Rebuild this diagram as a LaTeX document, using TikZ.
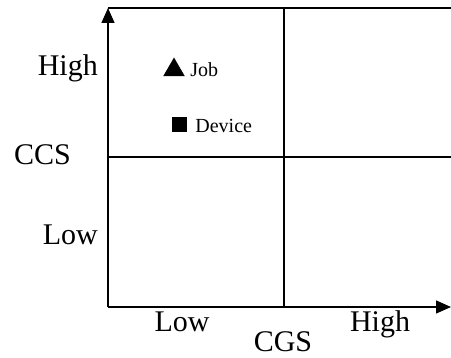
\documentclass[tikz,border=0pt]{standalone}
\usepackage{fontspec}
\setmainfont{Liberation Serif}
\usetikzlibrary{positioning,arrows.meta,shapes.geometric}
\tikzset{
        axis/.style={line width=1.3pt, -{Triangle[length=15pt,width=13pt]}},
        gridline/.style={line width=1.3pt},
        axislabel/.style={font=\fontsize{30}{30}\selectfont, inner sep=0pt},
        legendtext/.style={font=\fontsize{20}{20}\selectfont, inner sep=0pt},
        jobmark/.style={regular polygon, regular polygon sides=3, fill=black, inner sep=0pt, minimum size=25pt},
        devmark/.style={rectangle, fill=black, inner sep=0pt, minimum size=15pt},
    }
\begin{document}
\begin{tikzpicture}[x=1pt, y=1pt]
        \useasboundingbox (0,0) rectangle (451,358);

        % Punti degli assi
        \coordinate (origin) at (108,51);
        \coordinate (ytop) at (108,350);
        \coordinate (xend) at (451,51);
        \coordinate (topright) at (451,350);
        \coordinate (midbottom) at (284,51);
        \coordinate (midtop) at (284,350);
        \coordinate (midleft) at (108,201);
        \coordinate (midright) at (451,201);

        % Assi
        \draw[axis] (origin) -- (ytop);
        \draw[axis] (origin) -- (xend);

        % Griglia dei quadranti
        \draw[gridline] (ytop) -- (topright);
        \draw[gridline] (midbottom) -- (midtop);
        \draw[gridline] (midleft) -- (midright);

        % Etichette asse verticale
        \node[axislabel, anchor=base east] (yhigh) at (98,282) {High};
        \node[axislabel, anchor=base west] (ccs) at (14,193) {CCS};
        \node[axislabel, anchor=base east] (ylow) at (98,113) {Low};

        % Etichette asse orizzontale
        \node[axislabel, anchor=base] (xlow) at (182,26) {Low};
        \node[axislabel, anchor=base] (cgs) at (283,6) {CGS};
        \node[axislabel, anchor=base] (xhigh) at (380,26) {High};

        % Legenda
        \node[jobmark] (jobsym) at (174,288) {};
        \node[legendtext, base right=5pt of jobsym.corner 3] (job) {Job};
        \node[devmark] (devsym) at (179.5,233.5) {};
        \node[legendtext, base right=8pt of devsym.south east] (device) {Device};

    \end{tikzpicture}
\end{document}
